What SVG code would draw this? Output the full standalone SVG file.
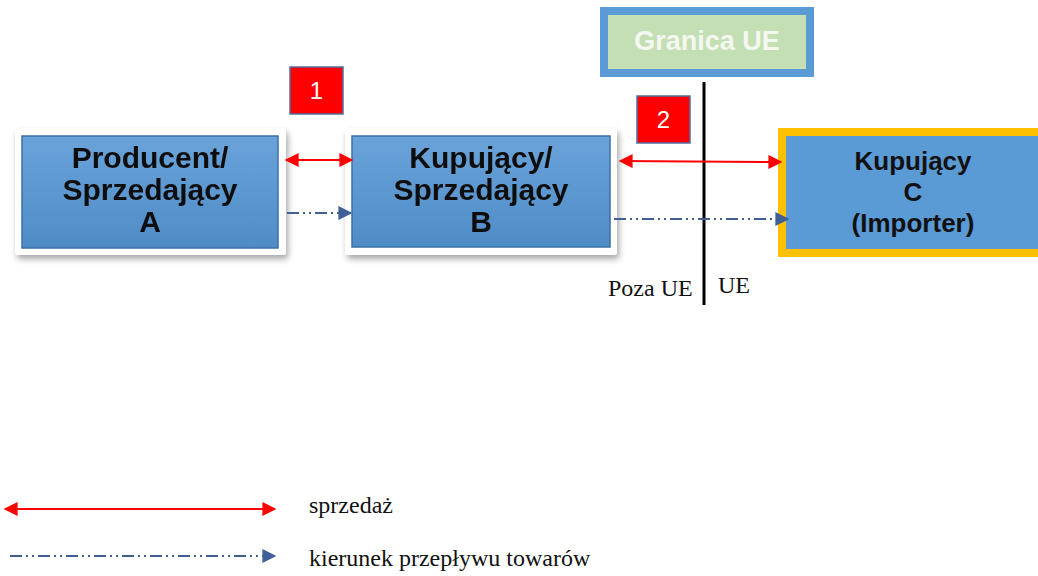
<svg xmlns="http://www.w3.org/2000/svg" width="1038" height="576" viewBox="0 0 1038 576">
  <defs>
    <linearGradient id="blueFill" x1="0" y1="0" x2="0" y2="1">
      <stop offset="0" stop-color="#6aa3da"/>
      <stop offset="1" stop-color="#4f8cc6"/>
    </linearGradient>
    <filter id="shadow" x="-10%" y="-10%" width="125%" height="130%">
      <feGaussianBlur in="SourceAlpha" stdDeviation="3"/>
      <feOffset dx="2" dy="4"/>
      <feComponentTransfer><feFuncA type="linear" slope="0.35"/></feComponentTransfer>
      <feMerge><feMergeNode/><feMergeNode in="SourceGraphic"/></feMerge>
    </filter>
    <marker id="redHead" viewBox="0 0 10 10" refX="9" refY="5" markerWidth="7" markerHeight="7" orient="auto-start-reverse" markerUnits="strokeWidth">
      <path d="M0,0 L10,5 L0,10 z" fill="#ff0000"/>
    </marker>
    <marker id="blueHead" viewBox="0 0 10 10" refX="9" refY="5" markerWidth="7" markerHeight="7" orient="auto" markerUnits="strokeWidth">
      <path d="M0,0 L10,5 L0,10 z" fill="#3f5f96"/>
    </marker>
  </defs>
  <style>
    .frame { fill: #ffffff; }
    .node { fill: url(#blueFill); stroke: #3d70a6; stroke-width: 1.5; }
    .lbl { font-family: "Liberation Sans", Arial, sans-serif; font-weight: bold; font-size: 30px; fill: #111111; text-anchor: middle; }
    .lblC { font-family: "Liberation Sans", Arial, sans-serif; font-weight: bold; font-size: 26px; fill: #111111; text-anchor: middle; }
    .num { fill: #ff0000; stroke: #4f6f9f; stroke-width: 1.5; }
    .numtxt { font-family: "Liberation Sans", Arial, sans-serif; font-size: 24px; fill: #ffffff; text-anchor: middle; }
    .sale { stroke: #ff0000; stroke-width: 2; fill: none; marker-start: url(#redHead); marker-end: url(#redHead); }
    .flow { stroke: #3f5f96; stroke-width: 2; fill: none; stroke-dasharray: 12 4 2 4 2 4; marker-end: url(#blueHead); }
    .serif { font-family: "Liberation Serif", "Times New Roman", serif; font-size: 24px; fill: #111111; }
  </style>

  <!-- EU border label -->
  <g id="granica">
    <rect x="604" y="11" width="206" height="62" fill="#c5dfb4" stroke="#5b9bd5" stroke-width="8"/>
    <text x="707" y="50" font-family="Liberation Sans, Arial, sans-serif" font-weight="bold" font-size="27" fill="#f4f8f0" text-anchor="middle">Granica UE</text>
  </g>

  <!-- border line -->
  <g id="border">
    <line x1="704" y1="82" x2="704" y2="305" stroke="#000000" stroke-width="3"/>
    <text class="serif" x="608" y="296">Poza UE</text>
    <text class="serif" x="718" y="293">UE</text>
  </g>

  <!-- Producer / seller A -->
  <g id="nodeA" filter="url(#shadow)">
    <rect class="frame" x="15" y="128" width="271" height="127" rx="3"/>
    <rect class="node" x="22" y="136" width="256" height="112"/>
    <text class="lbl" x="150" y="168">Producent/</text>
    <text class="lbl" x="150" y="200">Sprzedający</text>
    <text class="lbl" x="150" y="232">A</text>
  </g>

  <!-- Buyer / seller B -->
  <g id="nodeB" filter="url(#shadow)">
    <rect class="frame" x="345" y="128" width="272" height="127" rx="3"/>
    <rect class="node" x="352" y="136" width="258" height="111"/>
    <text class="lbl" x="481" y="168">Kupujący/</text>
    <text class="lbl" x="481" y="200">Sprzedający</text>
    <text class="lbl" x="481" y="232">B</text>
  </g>

  <!-- Buyer C (importer) -->
  <g id="nodeC">
    <rect x="782" y="132" width="262" height="121" fill="#5b9bd5" stroke="#ffc000" stroke-width="8"/>
    <text class="lblC" x="913" y="170">Kupujący</text>
    <text class="lblC" x="913" y="201">C</text>
    <text class="lblC" x="913" y="232">(Importer)</text>
  </g>

  <!-- transaction numbers -->
  <g id="badge1">
    <rect class="num" x="290" y="67" width="53" height="47"/>
    <text class="numtxt" x="316.5" y="99">1</text>
  </g>
  <g id="badge2">
    <rect class="num" x="637" y="96" width="53" height="47"/>
    <text class="numtxt" x="663.5" y="128">2</text>
  </g>

  <!-- connectors -->
  <g id="connectors">
    <line class="sale" x1="286" y1="160" x2="352" y2="160"/>
    <line class="flow" x1="287" y1="213" x2="351" y2="213"/>
    <line class="sale" x1="620" y1="161" x2="781" y2="162"/>
    <line class="flow" x1="614" y1="219" x2="788" y2="219"/>
  </g>

  <!-- legend -->
  <g id="legend">
    <line class="sale" x1="5" y1="509" x2="275" y2="509"/>
    <text class="serif" x="309" y="513">sprzedaż</text>
    <line class="flow" x1="10" y1="556" x2="275" y2="556" stroke="#4a5c78"/>
    <text class="serif" x="309" y="566">kierunek przepływu towarów</text>
  </g>
</svg>
